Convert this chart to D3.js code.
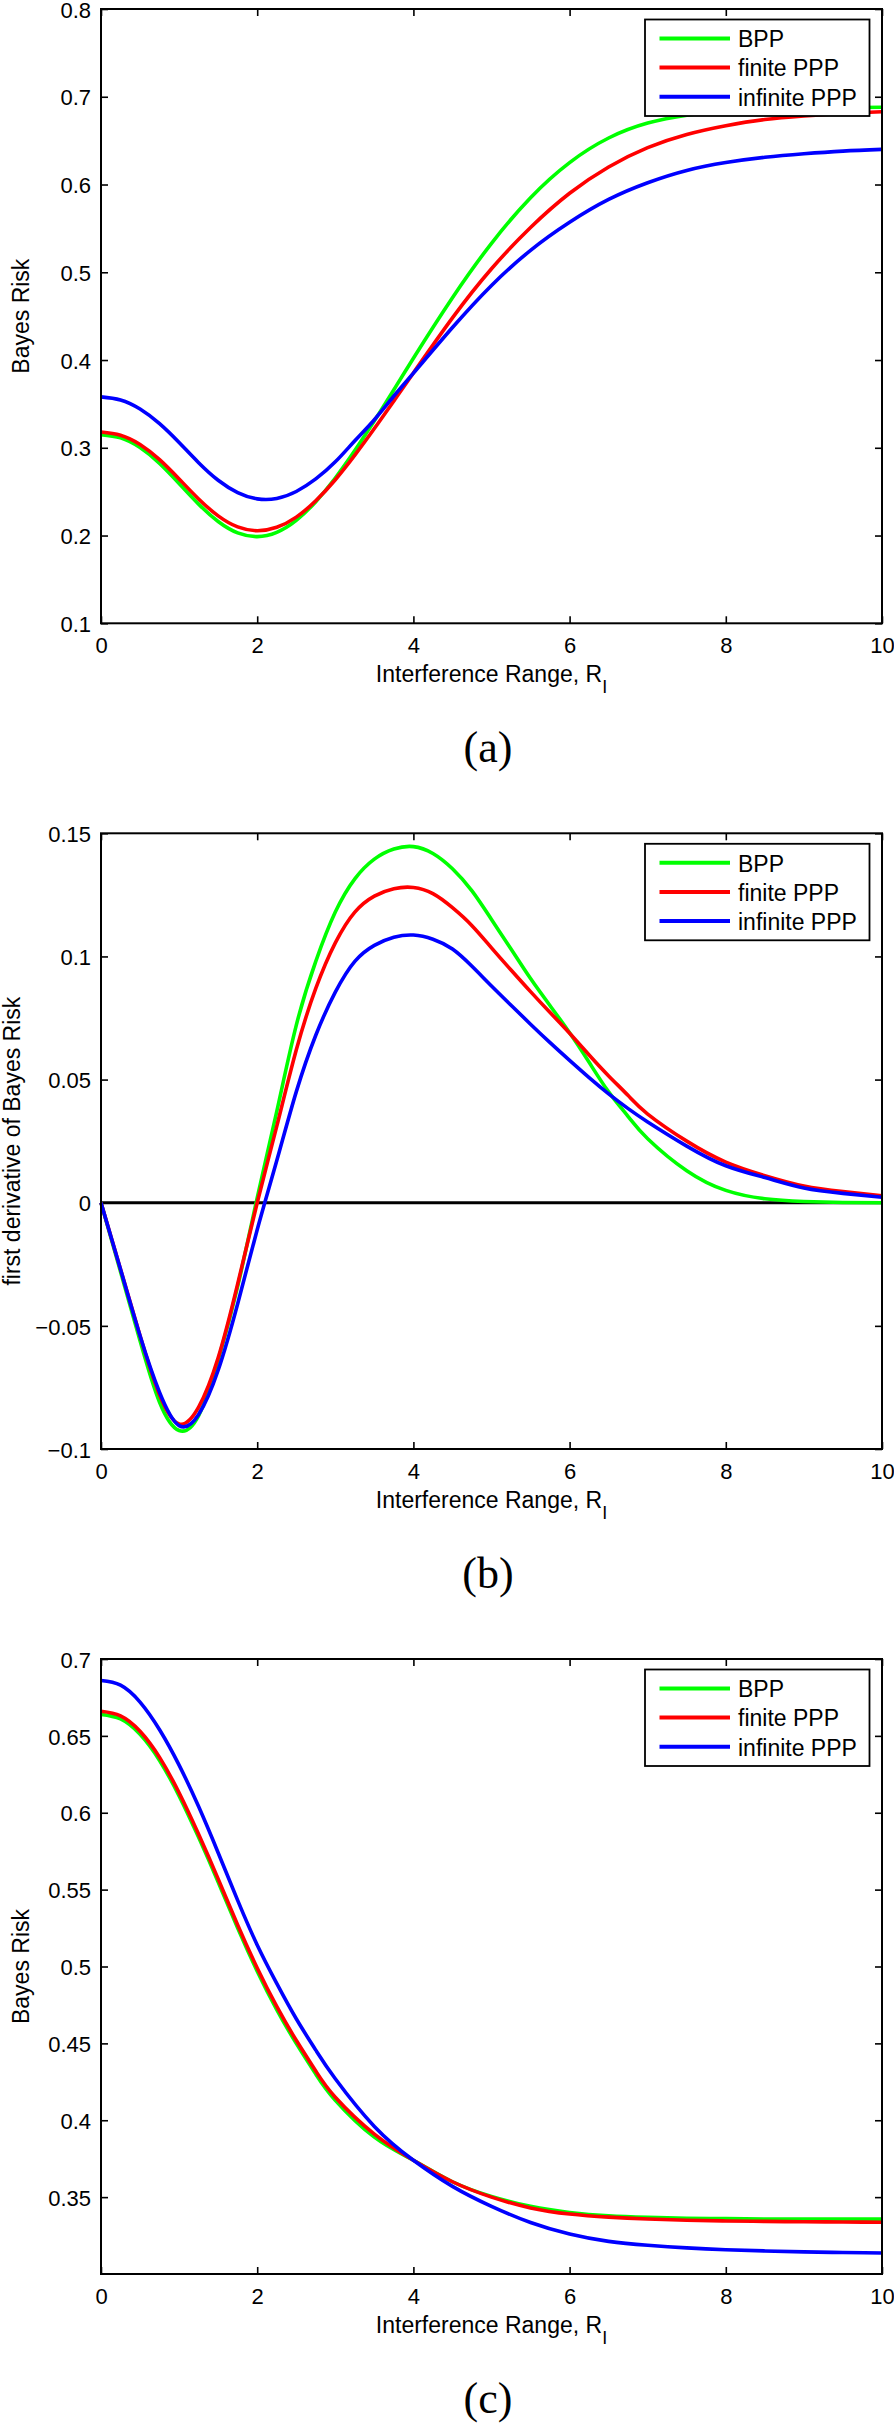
<!DOCTYPE html>
<html><head><meta charset="utf-8">
<script src="https://cdn.jsdelivr.net/npm/d3@7"></script>
<style>
body{margin:0;background:#fff}
svg{display:block}
</style>
</head><body>
<svg id="chart" width="894" height="2423"></svg>
<script>
// ---------- data ----------
const seriesNames = ["BPP", "finite PPP", "infinite PPP"];
const seriesColors = ["#00ff00", "#ff0000", "#0000ff"];

const xTicks = [0, 2, 4, 6, 8, 10];
const xTickLabels = ["0", "2", "4", "6", "8", "10"];

// panel (a): Bayes Risk
const xA = [0,0.25,0.5,0.75,1,1.25,1.5,1.75,2,2.25,2.5,2.75,3,3.25,3.5,3.75,4,4.5,5,5.5,6,6.5,7,7.5,8,8.5,9,9.5,10];
const aBPP      = [0.315,0.3113,0.3002,0.2822,0.2593,0.2358,0.2160,0.2030,0.1988,0.2037,0.2173,0.2386,0.2656,0.2968,0.3307,0.3661,0.4021,0.471,0.533,0.585,0.625,0.653,0.670,0.679,0.6838,0.686,0.687,0.6875,0.688];
const aFinite   = [0.318,0.3144,0.3038,0.2865,0.2645,0.2417,0.2224,0.2098,0.2055,0.2094,0.2210,0.2396,0.2636,0.2916,0.3219,0.3534,0.3853,0.448,0.504,0.551,0.590,0.620,0.642,0.657,0.667,0.674,0.678,0.681,0.683];
const aInfinite = [0.358,0.3545,0.3442,0.3275,0.306,0.283,0.263,0.249,0.2418,0.2422,0.2502,0.2645,0.2840,0.308,0.332,0.359,0.385,0.437,0.485,0.525,0.557,0.583,0.602,0.616,0.625,0.631,0.635,0.638,0.640];
const aYTicks = [0.1,0.2,0.3,0.4,0.5,0.6,0.7,0.8];
const aYTickLabels = ["0.1","0.2","0.3","0.4","0.5","0.6","0.7","0.8"];

// panel (b): first derivative of Bayes Risk
const xB = [0,0.25,0.5,0.75,1,1.25,1.5,1.75,2,2.25,2.5,2.75,3,3.25,3.5,3.75,4,4.25,4.5,4.75,5,5.25,5.5,5.75,6,6.25,6.5,6.75,7,7.5,8,8.5,9,9.5,10];
const bBPP      = [0,-0.028,-0.056,-0.081,-0.0925,-0.0865,-0.064,-0.034,0.002,0.037,0.072,0.098,0.118,0.1315,0.1395,0.1436,0.1446,0.1418,0.1356,0.1266,0.115,0.103,0.091,0.080,0.069,0.057,0.045,0.035,0.026,0.013,0.005,0.0016,0.0005,0.0001,0];
const bFinite   = [0,-0.027,-0.054,-0.078,-0.0898,-0.083,-0.063,-0.033,0.0,0.031,0.062,0.087,0.1055,0.118,0.1245,0.1275,0.128,0.1255,0.1198,0.1125,0.1035,0.0945,0.0857,0.0772,0.0688,0.060,0.0515,0.0435,0.036,0.025,0.0165,0.011,0.0068,0.0045,0.0028];
const bInfinite = [0,-0.027,-0.054,-0.077,-0.0905,-0.086,-0.068,-0.041,-0.011,0.017,0.045,0.068,0.0855,0.098,0.1045,0.1078,0.1087,0.107,0.103,0.096,0.088,0.0802,0.0725,0.065,0.0578,0.0508,0.0442,0.0382,0.0328,0.023,0.015,0.0102,0.006,0.0038,0.0022];
const bYTicks = [-0.1,-0.05,0,0.05,0.1,0.15];
const bYTickLabels = ["\u22120.1","\u22120.05","0","0.05","0.1","0.15"];

// panel (c): Bayes Risk
const xC = [0,0.25,0.5,0.75,1,1.25,1.5,1.75,2,2.25,2.5,2.75,3,3.5,4,4.5,5,5.5,6,6.5,7,7.5,8,8.5,9,9.5,10];
const cBPP      = [0.664,0.661,0.651,0.634,0.611,0.584,0.555,0.525,0.497,0.472,0.450,0.430,0.413,0.389,0.374,0.360,0.3505,0.344,0.340,0.3378,0.3368,0.3362,0.336,0.3358,0.3357,0.3357,0.3357];
const cFinite   = [0.666,0.663,0.653,0.636,0.613,0.586,0.557,0.527,0.499,0.474,0.452,0.432,0.415,0.391,0.374,0.360,0.350,0.343,0.339,0.337,0.3358,0.335,0.3345,0.3342,0.334,0.3338,0.3337];
const cInfinite = [0.686,0.683,0.672,0.654,0.631,0.604,0.574,0.543,0.514,0.489,0.466,0.4456,0.427,0.396,0.374,0.357,0.344,0.3335,0.326,0.3212,0.3187,0.317,0.3158,0.315,0.3144,0.314,0.3137];
const cYTicks = [0.35,0.4,0.45,0.5,0.55,0.6,0.65,0.7];
const cYTickLabels = ["0.35","0.4","0.45","0.5","0.55","0.6","0.65","0.7"];

const xLabel = "Interference Range, R";
const xLabelSub = "I";

// ---------- layout ----------
const FONT = '"Liberation Sans", Arial, Helvetica, sans-serif';
const SERIF = '"Liberation Serif", "Times New Roman", serif';
const left = 101, right = 882;

const panels = [
  {top: 9, bottom: 623.3, domain: [0.1, 0.8], ticks: aYTicks, labels: aYTickLabels,
   ylabel: "Bayes Risk", ylabelX: 29, caption: "(a)", xs: xA, ys: [aBPP, aFinite, aInfinite], zero: false},
  {top: 833.3, bottom: 1449, domain: [-0.1, 0.15], ticks: bYTicks, labels: bYTickLabels,
   ylabel: "first derivative of Bayes Risk", ylabelX: 20, caption: "(b)", xs: xB, ys: [bBPP, bFinite, bInfinite], zero: true},
  {top: 1659, bottom: 2274, domain: [0.3, 0.7], ticks: cYTicks, labels: cYTickLabels,
   ylabel: "Bayes Risk", ylabelX: 29, caption: "(c)", xs: xC, ys: [cBPP, cFinite, cInfinite], zero: false}
];

const svg = d3.select("#chart");
const x = d3.scaleLinear().domain([0, 10]).range([left, right]);

function styleAxis(g, showText) {
  g.select(".domain").remove();
  g.selectAll(".tick line").attr("stroke", "#000").attr("stroke-width", 1.6);
  g.attr("font-family", FONT).attr("font-size", 22);
  g.selectAll(".tick text").attr("fill", "#000");
  if (!showText) g.selectAll(".tick text").remove();
}

panels.forEach(p => {
  const y = d3.scaleLinear().domain(p.domain).range([p.bottom, p.top]);
  const g = svg.append("g");

  // axes (ticks inward on all four sides)
  g.append("g").attr("transform", `translate(${left},0)`)
    .call(d3.axisLeft(y).tickValues(p.ticks).tickFormat((d, i) => p.labels[i]).tickSize(-7).tickPadding(10))
    .call(a => styleAxis(a, true))
    .call(a => a.selectAll(".tick text").attr("dy", "0.37em"));
  g.append("g").attr("transform", `translate(${right},0)`)
    .call(d3.axisRight(y).tickValues(p.ticks).tickFormat("").tickSize(-7))
    .call(a => styleAxis(a, false));
  g.append("g").attr("transform", `translate(0,${p.bottom})`)
    .call(d3.axisBottom(x).tickValues(xTicks).tickFormat((d, i) => xTickLabels[i]).tickSize(-7).tickPadding(14.5))
    .call(a => styleAxis(a, true));
  g.append("g").attr("transform", `translate(0,${p.top})`)
    .call(d3.axisTop(x).tickValues(xTicks).tickFormat("").tickSize(-7))
    .call(a => styleAxis(a, false));

  // zero line
  if (p.zero) {
    g.append("line").attr("x1", x(0)).attr("x2", x(10)).attr("y1", y(0)).attr("y2", y(0))
      .attr("stroke", "#000").attr("stroke-width", 3);
  }

  // curves
  const line = d3.line().curve(d3.curveNatural);
  p.ys.forEach((vals, si) => {
    const pts = p.xs.map((xv, i) => [x(xv), y(vals[i])]);
    g.append("path").attr("d", line(pts)).attr("fill", "none")
      .attr("stroke", seriesColors[si]).attr("stroke-width", 3.6)
      .attr("stroke-linejoin", "round");
  });

  // box
  g.append("rect").attr("x", left).attr("y", p.top).attr("width", right - left).attr("height", p.bottom - p.top)
    .attr("fill", "none").attr("stroke", "#000").attr("stroke-width", 2);

  // legend
  const lx = 645, ly = p.top + 10.5, lw = 224.5, lh = 96.5;
  const lg = g.append("g");
  lg.append("rect").attr("x", lx).attr("y", ly).attr("width", lw).attr("height", lh)
    .attr("fill", "#fff").attr("stroke", "#000").attr("stroke-width", 1.8);
  seriesNames.forEach((name, i) => {
    const ry = ly + 19 + i * 29.1;
    lg.append("line").attr("x1", 659.5).attr("x2", 730).attr("y1", ry).attr("y2", ry)
      .attr("stroke", seriesColors[i]).attr("stroke-width", 4);
    lg.append("text").attr("x", 738).attr("y", ry + 8.8).text(name)
      .attr("font-family", FONT).attr("font-size", 23).attr("fill", "#000");
  });

  // x label
  const xl = g.append("text").attr("x", (left + right) / 2).attr("y", p.bottom + 59)
    .attr("text-anchor", "middle").attr("font-family", FONT).attr("font-size", 23).attr("fill", "#000");
  xl.append("tspan").text(xLabel);
  xl.append("tspan").attr("font-size", 18).attr("dy", 11).text(xLabelSub);

  // y label
  g.append("text").attr("transform", `translate(${p.ylabelX},${(p.top + p.bottom) / 2}) rotate(-90)`)
    .attr("text-anchor", "middle").attr("font-family", FONT).attr("font-size", 23).attr("fill", "#000")
    .text(p.ylabel);

  // caption
  g.append("text").attr("x", 488).attr("y", p.bottom + 139).attr("text-anchor", "middle")
    .attr("font-family", SERIF).attr("font-size", 44).attr("fill", "#000").text(p.caption);
});
</script>
</body></html>
